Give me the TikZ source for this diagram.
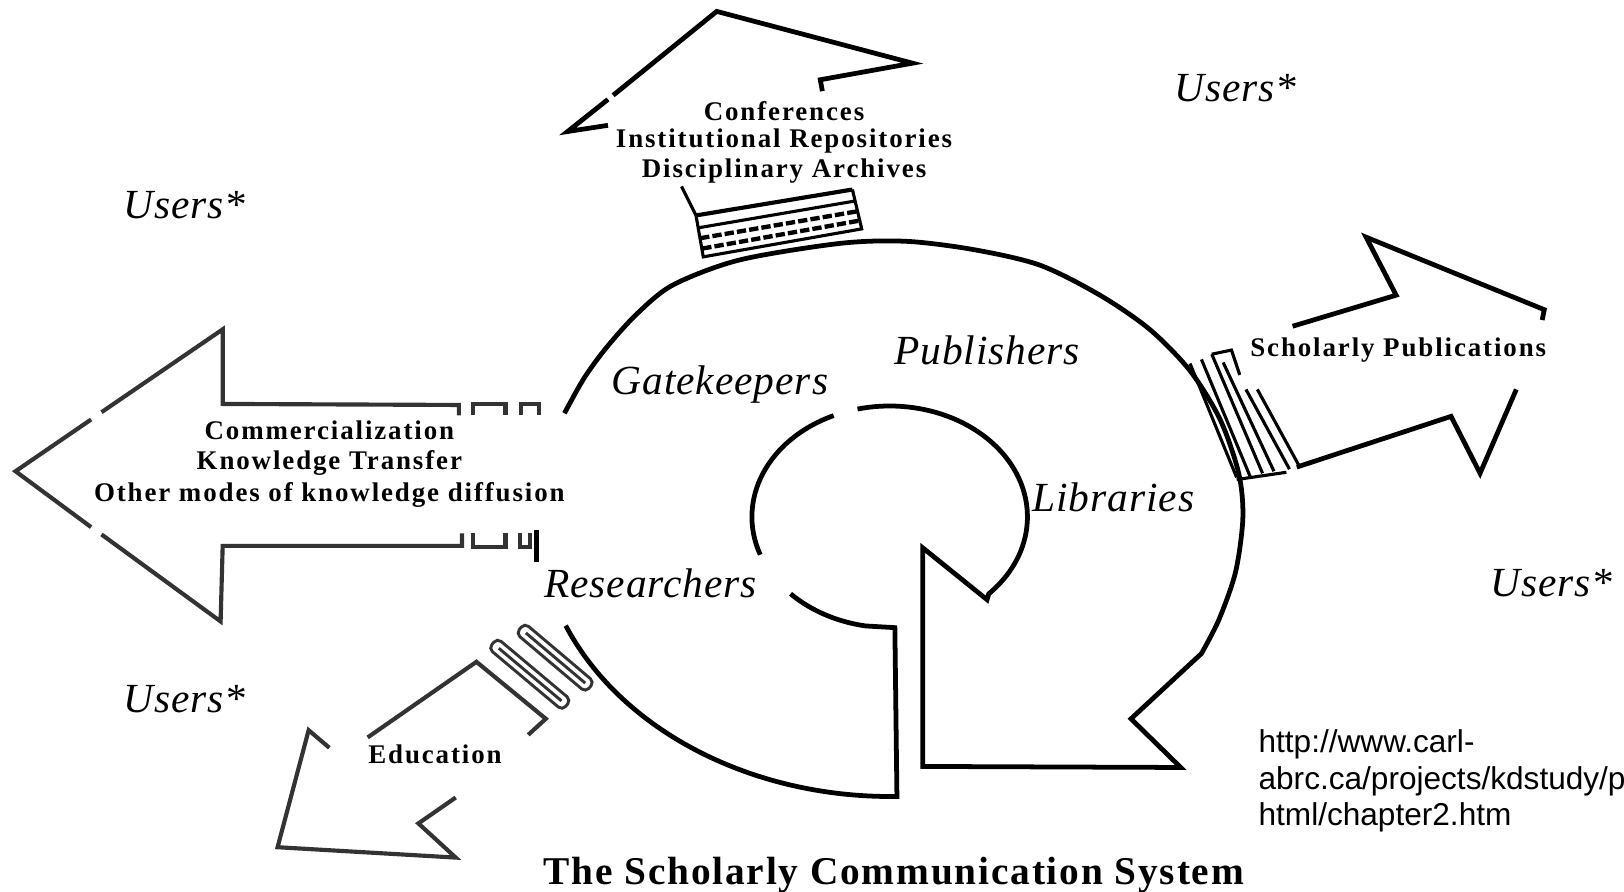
\documentclass[tikz,border=0pt]{standalone}
\usepackage{fontspec}
\setmainfont{Liberation Serif}
\newfontfamily\labfont[LetterSpace=2.3]{Liberation Serif}
\newfontfamily\boxfont[LetterSpace=7]{Liberation Serif}
\newfontfamily\ttlfont[LetterSpace=4.6]{Liberation Serif}
\newfontfamily\urlfnt{Liberation Sans}
\usetikzlibrary{calc}
\tikzset{
 ln/.style={line width=4.6pt, line join=miter, draw=black},
 gln/.style={line width=4pt, draw=black!80},
 stripe/.style={line width=3pt, draw=black},
 gstripe/.style={line width=2.8pt, draw=black!80},
 lab/.style={inner sep=0pt, anchor=base, font=\labfont\itshape\fontsize{40}{44}\selectfont},
 bx/.style={inner sep=0pt, anchor=base, font=\boxfont\bfseries\fontsize{26}{30}\selectfont},
 ttl/.style={inner sep=0pt, anchor=base, font=\ttlfont\bfseries\fontsize{38}{42}\selectfont},
 urlt/.style={inner sep=0pt, anchor=base west, font=\urlfnt\fontsize{30.5}{35}\selectfont},
}
\begin{document}
\begin{tikzpicture}[x=1pt,y=-1pt]
\useasboundingbox (0,0) rectangle (1568,861);
\fill[white] (0,0) rectangle (1568,861);

% ---- outer ring with inner spiral ----
\draw[ln] plot[smooth] coordinates {(545,399) (564,365) (586,335) (615,303) (650,275) (714,251) (811,235) (875,233) (940,241) (1004,256) (1062,285) (1110,318) (1149,358) (1178,405) (1196,457) (1200,500) (1193,552) (1177,598) (1160,631)}
  -- (1092,694) -- (1140,741) -- (891,740) -- (891,529) -- (953,579)
  -- ($(859,499)+(44:133 and 107)$) arc[start angle=44, end angle=-103.5, x radius=133, y radius=107];
\draw[ln] ($(859,499)+(-114:133 and 107)$) arc[start angle=-114, end angle=-200, x radius=133, y radius=107];
\draw[ln] ($(859,499)+(136:133 and 107)$) arc[start angle=136, end angle=100, x radius=133, y radius=107]
  -- (864,606) -- (866,769) arc[start angle=89, end angle=157.4, x radius=340, y radius=268];

% ---- top arrow (Conferences) ----
\draw[ln] (587,121) -- (548,127) -- (587,96);
\draw[ln] (592,92) -- (692,11) -- (881,61) -- (792,77) -- (794,88);
\draw[stripe] (658,180) -- (672,208);
\draw[line width=4pt] (672,208) -- (823,183);
\draw[stripe] (823,183) -- (832,221) -- (679,248) -- (672,208);
\draw[stripe] (674,220) -- (826,194);
\draw[line width=4.2pt, dash pattern=on 9pt off 3pt] (676,230) -- (828,204);
\draw[line width=4.2pt, dash pattern=on 9pt off 3pt] (678,240) -- (830,213);

% ---- right arrow (Scholarly Publications) ----
\draw[ln] (1248,315) -- (1348,285) -- (1319,229) -- (1491,299) -- (1489,309);
\draw[ln] (1464,376) -- (1429,457) -- (1401,402) -- (1252,451);
\draw[stripe] (1149,351) -- (1194,461);
\draw[stripe] (1160,347) -- (1207,460);
\draw[stripe] (1170,342) -- (1219,457);
\draw[stripe] (1181,350) -- (1230,455);
\draw[stripe] (1170,342) -- (1189,338) -- (1197,362);
\draw[stripe] (1203,376) -- (1245,453);
\draw[stripe] (1214,376) -- (1255,451);
\draw[stripe] (1194,463) -- (1242,456);

% ---- left arrow (Commercialization) ----
\draw[gln] (443,401) -- (443,391) -- (215,390) -- (215,318) -- (98,398);
\draw[gln] (88,405) -- (15,455) -- (88,509);
\draw[gln] (98,516) -- (213,600) -- (215,527) -- (446,527) -- (446,515);
\draw[gln] (457,401) -- (457,390) -- (488,390) -- (488,401);
\draw[gln] (503,401) -- (503,390) -- (520,390) -- (520,401);
\draw[gln] (457,515) -- (457,528) -- (488,528) -- (488,515);
\draw[gln] (502,515) -- (502,528) -- (512,528) -- (512,515);
\draw[line width=5pt] (518,512) -- (518,543);

% ---- lower-left arrow (Education) ----
\draw[gln] (318,722) -- (298,705) -- (268,818) -- (440,828) -- (404,795) -- (440,770);
\draw[gln] (355,712) -- (460,639) -- (527,694) -- (510,709.5);
\begin{scope}[shift={(536,635)}, rotate=-40.2]
  \draw[gstripe, rounded corners=5pt] (-44,-6.5) rectangle (44,6.5);
  \draw[gstripe] (-37,0) -- (38,0);
\end{scope}
\begin{scope}[shift={(511.5,651)}, rotate=-40]
  \draw[gstripe, rounded corners=5pt] (-46.5,-6.5) rectangle (46.5,6.5);
  \draw[gstripe] (-39,0) -- (40,0);
\end{scope}

% ---- texts ----
\node[bx] (conf) at (757,116) {Conferences};
\node[bx] (instrep) at (757,142) {Institutional Repositories};
\node[bx] (discarch) at (757,171) {Disciplinary Archives};
\node[bx] (comm) at (318,424) {Commercialization};
\node[bx] (ktrans) at (318,453) {Knowledge Transfer};
\node[bx] (othermodes) at (318,484) {Other modes of knowledge diffusion};
\node[bx] (schpub) at (1350,344) {Scholarly Publications};
\node[bx] (educ) at (420,737) {Education};

\node[lab] (usersTL) at (178,211) {Users*};
\node[lab] (usersTR) at (1193,98) {Users*};
\node[lab] (usersBL) at (178,688) {Users*};
\node[lab] (usersR) at (1498,576) {Users*};
\node[lab] (gate) at (695,381) {Gatekeepers};
\node[lab] (publ) at (953,352) {Publishers};
\node[lab] (libr) at (1075,494) {Libraries};
\node[lab] (resr) at (628,577) {Researchers};

\node[ttl] (title) at (863,854) {The Scholarly Communication System};

\node[urlt] (url1) at (1215,727) {http://www.carl-};
\node[urlt] (url2) at (1215,762) {abrc.ca/projects/kdstudy/p};
\node[urlt] (url3) at (1215,797) {html/chapter2.htm};
\end{tikzpicture}
\end{document}
